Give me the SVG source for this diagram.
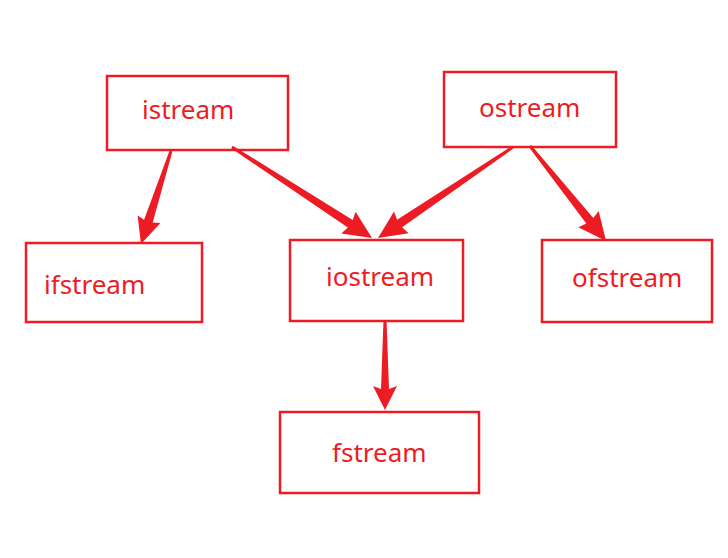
<svg xmlns="http://www.w3.org/2000/svg" width="728" height="558" viewBox="0 0 728 558">
<style>
.box{fill:#fff;stroke:#ED1C24;stroke-width:2.5}
.lbl{font-family:"Noto Sans","Open Sans",sans-serif;font-size:26px;fill:#ED1C24}
.arr{fill:#ED1C24;stroke:none}
</style>
<rect width="728" height="558" fill="#fff"/>
<g id="istream"><rect class="box" x="107" y="76" width="181" height="74"/><text class="lbl" x="142" y="119">istream</text></g>
<g id="ostream"><rect class="box" x="444" y="72" width="172" height="75"/><text class="lbl" x="479" y="117">ostream</text></g>
<g id="ifstream"><rect class="box" x="26" y="243" width="176" height="79"/><text class="lbl" x="44" y="294">ifstream</text></g>
<g id="iostream"><rect class="box" x="290" y="240" width="173" height="81"/><text class="lbl" x="326" y="286">iostream</text></g>
<g id="ofstream"><rect class="box" x="542" y="240" width="170" height="82"/><text class="lbl" x="572" y="287">ofstream</text></g>
<g id="fstream"><rect class="box" x="280" y="412" width="199" height="81"/><text class="lbl" x="332" y="462">fstream</text></g>
<g id="connectors">
<polygon class="arr" points="172.4,151.5 152.7,222.6 160.4,223.0 141,244 137.6,215.6 144.1,219.8 169.6,150.5"/>
<polygon class="arr" points="232.8,145.7 352.7,220.0 355.6,211.8 372,238 341.4,233.6 347.8,227.6 231.2,148.3"/>
<polygon class="arr" points="513.8,148.2 402.1,227.2 408.6,233.2 378,238 394.0,211.6 397.1,219.8 512.2,145.8"/>
<polygon class="arr" points="531.2,145.1 593.3,217.9 598.7,211.0 606,241 578.3,227.2 586.3,223.5 528.8,146.9"/>
<polygon class="arr" points="383.5,320 381,389 373,386 385,410 397,386 389,389 386.5,320"/>
</g>
</svg>
